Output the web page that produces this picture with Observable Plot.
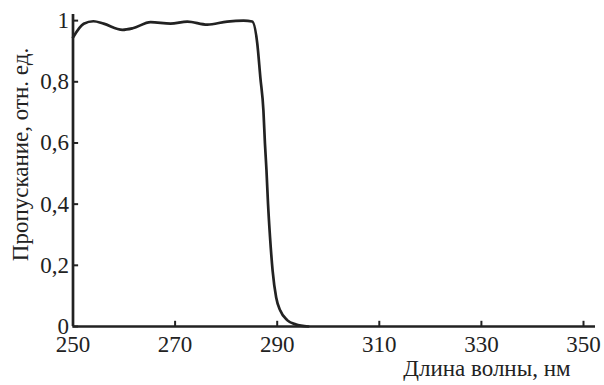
<!DOCTYPE html>
<html>
<head>
<meta charset="utf-8">
<script src="https://cdn.jsdelivr.net/npm/d3@7"></script>
<script src="https://cdn.jsdelivr.net/npm/@observablehq/plot@0.6"></script>
<style>
  html, body { margin: 0; padding: 0; background: #fff; font-family: "Liberation Serif", "Times New Roman", Times, serif; }
</style>
</head>
<body>
<div id="chart"></div>
<script>
const wavelength = [250.0, 252.1, 254.0, 256.0, 259.7, 261.7, 265.2, 269.1, 272.4, 276.3, 280.2, 283.4, 285.1, 286.1, 286.7, 287.3, 287.6, 287.9, 288.2, 288.6, 289.1, 289.8, 290.6, 292.0, 293.6, 296.1];
const transmission = [0.945, 0.99, 0.998, 0.99, 0.97, 0.975, 0.995, 0.99, 0.997, 0.987, 0.997, 1.0, 0.997, 0.925, 0.814, 0.706, 0.598, 0.51, 0.402, 0.291, 0.183, 0.095, 0.052, 0.02, 0.007, 0.0];
const xTicks = [250, 270, 290, 310, 330, 350];
const yTicks = [0, 0.2, 0.4, 0.6, 0.8, 1];
const xLabel = "Длина волны, нм";
const yLabel = "Пропускание, отн. ед.";

const data = wavelength.map((w, i) => ({w, t: transmission[i]}));
const xMin = 250, xMax = 352.35, yMin = 0, yMax = 1.02;
const fmt = d => String(d).replace(".", ",");
const serif = "Liberation Serif, Times New Roman, Times, serif";

const chart = Plot.plot({
  width: 604,
  height: 385,
  marginLeft: 72.5,
  marginRight: 9,
  marginTop: 14,
  marginBottom: 59,
  style: {fontFamily: serif, fontSize: "23px"},
  x: {domain: [xMin, xMax]},
  y: {domain: [yMin, yMax]},
  marks: [
    Plot.axisX({ticks: xTicks, tickSize: 0, tickPadding: 9, tickFormat: fmt, fontSize: 23, fontFamily: serif, fill: "#222", label: null}),
    Plot.axisY({ticks: yTicks, tickSize: 0, tickPadding: 4, tickFormat: fmt, fontSize: 23, fontFamily: serif, fill: "#222", label: null}),
    Plot.ruleX(xTicks, {x: d => d, y1: 0, y2: 0.017, stroke: "#222", strokeWidth: 2}),
    Plot.ruleY(yTicks, {y: d => d, x1: xMin, x2: xMin + 1.1, stroke: "#222", strokeWidth: 2}),
    Plot.line(data, {x: "w", y: "t", stroke: "#222", strokeWidth: 2.7, curve: "monotone-x"}),
    Plot.ruleX([xMin], {y1: yMin, y2: yMax, stroke: "#222", strokeWidth: 2.7}),
    Plot.ruleY([yMin], {x1: xMin, x2: xMax, stroke: "#222", strokeWidth: 2.7}),
    Plot.text([xLabel], {frameAnchor: "bottom-right", textAnchor: "end", dx: -25, dy: 49, fontSize: 23, fontFamily: serif, fill: "#222"}),
    Plot.text([yLabel], {frameAnchor: "left", textAnchor: "middle", dx: -52, dy: -16, rotate: -90, fontSize: 23, fontFamily: serif, fill: "#222"})
  ]
});
document.getElementById("chart").appendChild(chart);
</script>
</body>
</html>
